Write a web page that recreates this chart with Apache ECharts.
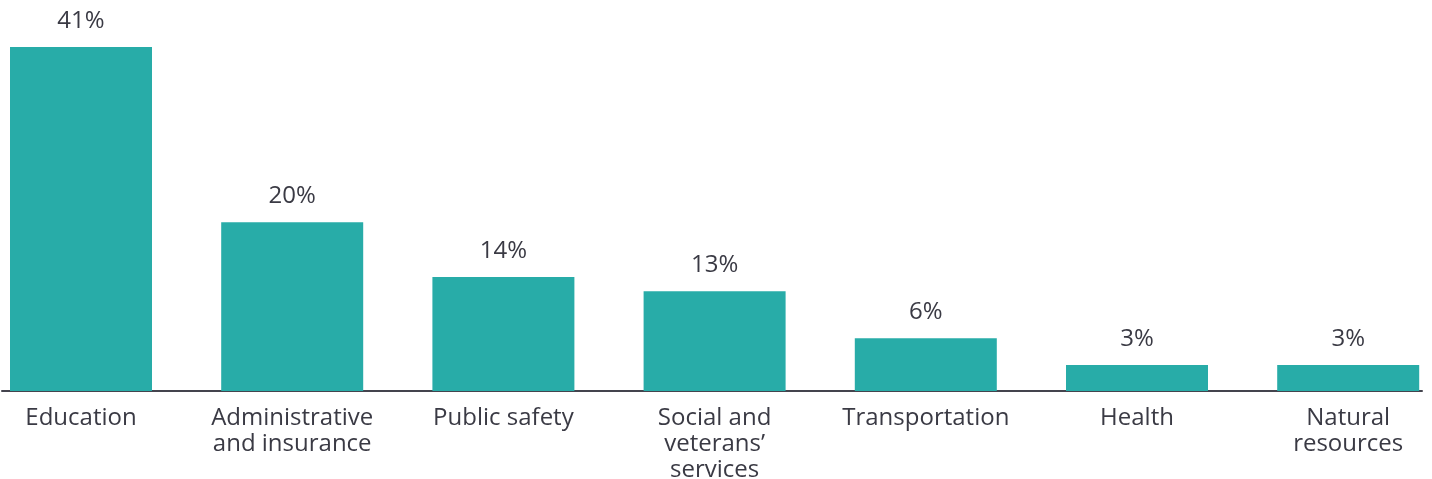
<!DOCTYPE html>
<html>
<head>
<meta charset="utf-8">
<script src="https://cdn.jsdelivr.net/npm/echarts@6/dist/echarts.min.js"></script>
<style>
html,body{margin:0;padding:0;background:#fff;}
#chart{width:1432px;height:479px;}
</style>
</head>
<body>
<div id="chart"></div>
<script>
const categories = ["Education", "Administrative\nand insurance", "Public safety", "Social and\nveterans’\nservices", "Transportation", "Health", "Natural\nresources"];
const values = [41, 20.1, 13.6, 11.9, 6.3, 3.1, 3.1];
const valueLabels = ["41%", "20%", "14%", "13%", "6%", "3%", "3%"];

const textColor = "#3a3a44";
const barColor = "#28aca8";
const fontFamily = "'Open Sans', sans-serif";

const chart = echarts.init(document.getElementById('chart'));
chart.setOption({
  animation: false,
  grid: [
    { left: -24.6, right: -21.8, top: 47, bottom: 88, containLabel: false, outerBoundsMode: 'none' },
    { left: 2, right: 10, top: 47, bottom: 88, containLabel: false, outerBoundsMode: 'none' }
  ],
  xAxis: [
    {
      type: 'category', gridIndex: 0, data: categories,
      axisLine: { show: false }, axisTick: { show: false },
      axisLabel: { color: textColor, fontSize: 24, fontFamily: fontFamily, lineHeight: 26, margin: 14, interval: 0, align: 'center' }
    },
    {
      type: 'value', gridIndex: 1, min: 0, max: 1,
      axisLine: { show: true, lineStyle: { color: '#44444e', width: 2 } },
      axisTick: { show: false }, axisLabel: { show: false }, splitLine: { show: false }
    }
  ],
  yAxis: [
    { type: 'value', gridIndex: 0, min: 0, max: 41, show: false, splitLine: { show: false } },
    { type: 'value', gridIndex: 1, min: 0, max: 1, show: false, splitLine: { show: false } }
  ],
  series: [{
    type: 'bar', xAxisIndex: 0, yAxisIndex: 0,
    data: values, barWidth: 142,
    itemStyle: { color: barColor },
    label: {
      show: true, position: 'top', distance: 14,
      color: textColor, fontSize: 24, fontFamily: fontFamily,
      formatter: p => valueLabels[p.dataIndex]
    }
  }]
});
</script>
</body>
</html>
